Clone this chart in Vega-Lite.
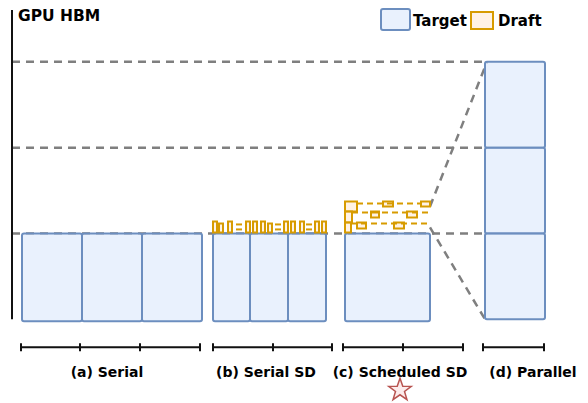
{
  "$schema": "https://vega.github.io/schema/vega-lite/v6.json",
  "width": 588,
  "height": 403,
  "padding": 0,
  "autosize": {"type": "fit", "contains": "padding"},
  "background": "white",
  "config": {"view": {"stroke": null}},
  "datasets": {
    "target": [
      {"x": 22, "x2": 82, "y": 234, "y2": 322},
      {"x": 82, "x2": 142, "y": 234, "y2": 322},
      {"x": 142, "x2": 202, "y": 234, "y2": 322},
      {"x": 213, "x2": 250, "y": 234, "y2": 322},
      {"x": 250, "x2": 288, "y": 234, "y2": 322},
      {"x": 288, "x2": 326, "y": 234, "y2": 322},
      {"x": 345, "x2": 430, "y": 234, "y2": 322},
      {"x": 485, "x2": 545, "y": 62, "y2": 148},
      {"x": 485, "x2": 545, "y": 148, "y2": 234},
      {"x": 485, "x2": 545, "y": 234, "y2": 320},
      {"x": 381, "x2": 410, "y": 9, "y2": 30}
    ],
    "draft": [
      {"x": 213, "x2": 217, "y": 222, "y2": 233},
      {"x": 219, "x2": 223, "y": 224, "y2": 233},
      {"x": 228, "x2": 232, "y": 222, "y2": 233},
      {"x": 246, "x2": 250, "y": 222, "y2": 233},
      {"x": 253, "x2": 257, "y": 222, "y2": 233},
      {"x": 261, "x2": 265, "y": 222, "y2": 233},
      {"x": 268, "x2": 272, "y": 224, "y2": 233},
      {"x": 284, "x2": 288, "y": 222, "y2": 233},
      {"x": 291, "x2": 295, "y": 222, "y2": 233},
      {"x": 300, "x2": 304, "y": 222, "y2": 233},
      {"x": 315, "x2": 319, "y": 222, "y2": 233},
      {"x": 322, "x2": 326, "y": 222, "y2": 233},
      {"x": 345, "x2": 357, "y": 202, "y2": 212},
      {"x": 345, "x2": 352, "y": 212, "y2": 223},
      {"x": 345, "x2": 351, "y": 223, "y2": 233},
      {"x": 383, "x2": 393, "y": 202, "y2": 207},
      {"x": 421, "x2": 430, "y": 202, "y2": 207},
      {"x": 371, "x2": 379, "y": 212, "y2": 218},
      {"x": 407, "x2": 417, "y": 212, "y2": 218},
      {"x": 357, "x2": 366, "y": 223, "y2": 229},
      {"x": 394, "x2": 404, "y": 223, "y2": 229},
      {"x": 471, "x2": 493, "y": 12, "y2": 29}
    ],
    "draftdash": [
      {"x": 236, "x2": 243, "y": 225, "y2": 225},
      {"x": 236, "x2": 243, "y": 230, "y2": 230},
      {"x": 275, "x2": 281, "y": 225, "y2": 225},
      {"x": 275, "x2": 281, "y": 230, "y2": 230},
      {"x": 306, "x2": 312, "y": 225, "y2": 225},
      {"x": 306, "x2": 312, "y": 230, "y2": 230},
      {"x": 357, "x2": 421, "y": 204, "y2": 204},
      {"x": 352, "x2": 430, "y": 213, "y2": 213},
      {"x": 351, "x2": 430, "y": 224, "y2": 224}
    ],
    "graydash": [
      {"x": 12, "x2": 485, "y": 62, "y2": 62},
      {"x": 12, "x2": 485, "y": 148, "y2": 148},
      {"x": 12, "x2": 485, "y": 234, "y2": 234},
      {"x": 430, "x2": 487, "y": 207, "y2": 62},
      {"x": 430, "x2": 485, "y": 228, "y2": 320}
    ],
    "black": [
      {"x": 12, "x2": 12, "y": 10, "y2": 320},
      {"x": 21, "x2": 200, "y": 348, "y2": 348},
      {"x": 213, "x2": 332, "y": 348, "y2": 348},
      {"x": 343, "x2": 463, "y": 348, "y2": 348},
      {"x": 483, "x2": 544, "y": 348, "y2": 348},
      {"x": 21, "x2": 21, "y": 344, "y2": 352},
      {"x": 80, "x2": 80, "y": 344, "y2": 352},
      {"x": 140, "x2": 140, "y": 344, "y2": 352},
      {"x": 200, "x2": 200, "y": 344, "y2": 352},
      {"x": 213, "x2": 213, "y": 344, "y2": 352},
      {"x": 273, "x2": 273, "y": 344, "y2": 352},
      {"x": 332, "x2": 332, "y": 344, "y2": 352},
      {"x": 343, "x2": 343, "y": 344, "y2": 352},
      {"x": 403, "x2": 403, "y": 344, "y2": 352},
      {"x": 463, "x2": 463, "y": 344, "y2": 352},
      {"x": 483, "x2": 483, "y": 344, "y2": 352},
      {"x": 544, "x2": 544, "y": 344, "y2": 352}
    ],
    "labels": [
      {"x": 107, "y": 374, "text": "(a) Serial"},
      {"x": 266, "y": 374, "text": "(b) Serial SD"},
      {"x": 400, "y": 374, "text": "(c) Scheduled SD"},
      {"x": 533, "y": 374, "text": "(d) Parallel"}
    ],
    "legendtext": [
      {"x": 413, "y": 21, "text": "Target"},
      {"x": 498, "y": 21, "text": "Draft"}
    ],
    "title": [
      {"x": 18, "y": 16, "text": "GPU HBM"}
    ],
    "star": [{"x": 400, "y": 391}]
  },
  "encoding": {
    "x": {"field": "x", "type": "quantitative", "scale": {"domain": [0, 588], "nice": false, "zero": false}, "axis": null},
    "y": {"field": "y", "type": "quantitative", "scale": {"domain": [403, 0], "nice": false, "zero": false}, "axis": null}
  },
  "layer": [
    {
      "data": {"name": "graydash"},
      "mark": {"type": "rule", "stroke": "#7f7f7f", "strokeWidth": 2.5, "strokeDash": [8, 6]},
      "encoding": {"x2": {"field": "x2"}, "y2": {"field": "y2"}}
    },
    {
      "data": {"name": "target"},
      "mark": {"type": "rect", "fill": "#dae8fc", "fillOpacity": 0.6, "stroke": "#6c8ebf", "strokeWidth": 2, "cornerRadius": 2},
      "encoding": {"x2": {"field": "x2"}, "y2": {"field": "y2"}}
    },
    {
      "data": {"name": "draft"},
      "mark": {"type": "rect", "fill": "#ffe6cc", "fillOpacity": 0.5, "stroke": "#d79b00", "strokeWidth": 2},
      "encoding": {"x2": {"field": "x2"}, "y2": {"field": "y2"}}
    },
    {
      "data": {"name": "draftdash"},
      "mark": {"type": "rule", "stroke": "#d79b00", "strokeWidth": 2, "strokeDash": [6, 4]},
      "encoding": {"x2": {"field": "x2"}, "y2": {"field": "y2"}}
    },
    {
      "data": {"name": "black"},
      "mark": {"type": "rule", "stroke": "#111111", "strokeWidth": 2},
      "encoding": {"x2": {"field": "x2"}, "y2": {"field": "y2"}}
    },
    {
      "data": {"name": "labels"},
      "mark": {"type": "text", "align": "center", "baseline": "middle", "font": "DejaVu Sans", "fontWeight": "bold", "fontSize": 14, "fill": "#000000"},
      "encoding": {"text": {"field": "text"}}
    },
    {
      "data": {"name": "legendtext"},
      "mark": {"type": "text", "align": "left", "baseline": "middle", "font": "DejaVu Sans", "fontWeight": "bold", "fontSize": 15, "fill": "#000000"},
      "encoding": {"text": {"field": "text"}}
    },
    {
      "data": {"name": "title"},
      "mark": {"type": "text", "align": "left", "baseline": "middle", "font": "DejaVu Sans", "fontWeight": "bold", "fontSize": 15.5, "fill": "#000000"},
      "encoding": {"text": {"field": "text"}}
    },
    {
      "data": {"name": "star"},
      "mark": {"type": "point", "shape": "M0,-1L0.235,-0.324L0.951,-0.309L0.38,0.124L0.588,0.809L0,0.4L-0.588,0.809L-0.38,0.124L-0.951,-0.309L-0.235,-0.324Z", "size": 560, "filled": true, "fill": "#f8cecc", "fillOpacity": 0.4, "stroke": "#b85450", "strokeWidth": 1.5, "opacity": 1},
      "encoding": {}
    }
  ]
}
